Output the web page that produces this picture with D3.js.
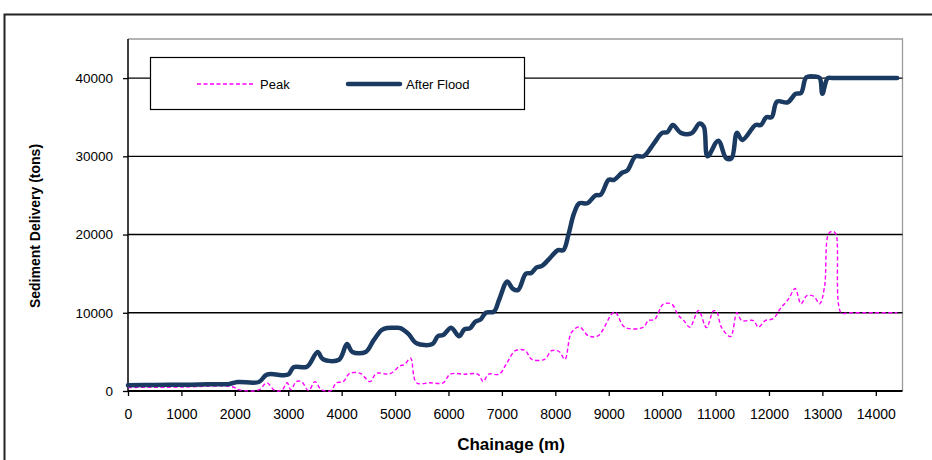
<!DOCTYPE html>
<html>
<head>
<meta charset="utf-8">
<script src="https://cdn.jsdelivr.net/npm/d3@7"></script>
<style>
  html, body { margin: 0; padding: 0; background: #fff; }
  svg { display: block; }
  text { font-family: Arial, "Liberation Sans", sans-serif; fill: #000; }
</style>
</head>
<body>
<svg id="chart" width="932" height="460"></svg>
<script>
// Chainage (m) of each surveyed point
const afterFloodChainage = [0, 500, 1000, 1500, 1900, 2050, 2450, 2600, 3000, 3100, 3350, 3550, 3650, 3950, 4100, 4200, 4450, 4600, 4750, 4850, 4980, 5100, 5250, 5400, 5700, 5800, 5900, 6050, 6200, 6300, 6400, 6500, 6600, 6700, 6850, 6950, 7100, 7200, 7300, 7450, 7550, 7650, 7750, 7900, 8050, 8150, 8250, 8350, 8450, 8600, 8750, 8850, 9000, 9100, 9250, 9350, 9500, 9650, 9850, 10000, 10100, 10200, 10350, 10550, 10700, 10780, 10850, 11050, 11200, 11300, 11400, 11500, 11750, 11850, 11950, 12050, 12150, 12350, 12500, 12600, 12700, 12850, 12950, 13000, 13100, 13200, 13600, 14000, 14400];
// Cumulative sediment delivery after the flood (tons)
const afterFloodTons = [750, 780, 800, 850, 900, 1150, 1150, 2100, 2100, 3050, 3100, 5000, 4050, 4000, 6000, 5000, 5000, 6500, 7800, 8050, 8080, 8050, 7300, 6100, 6000, 7000, 7150, 8100, 7000, 7900, 8000, 8850, 9150, 10000, 10150, 11700, 14000, 13100, 12900, 15000, 15100, 15800, 16000, 17000, 18000, 18000, 20100, 22700, 24000, 24000, 25000, 25100, 27000, 27000, 27900, 28200, 30000, 30000, 31700, 33000, 33100, 34000, 33000, 32950, 34200, 33800, 30000, 32000, 29750, 29750, 33000, 32100, 34000, 34000, 35000, 35000, 37000, 36900, 38000, 38100, 40100, 40200, 40000, 38000, 40000, 40000, 40000, 40000, 40000];

const peakChainage = [0, 1000, 1950, 2080, 2450, 2600, 2750, 2880, 2980, 3050, 3150, 3250, 3380, 3500, 3620, 3800, 3900, 4030, 4150, 4350, 4530, 4650, 4900, 5090, 5180, 5290, 5400, 5650, 5900, 6030, 6300, 6550, 6650, 6750, 6950, 7090, 7250, 7430, 7560, 7800, 7930, 8070, 8180, 8300, 8450, 8620, 8800, 9110, 9300, 9650, 9740, 9860, 10020, 10180, 10300, 10400, 10520, 10680, 10830, 10960, 11020, 11110, 11280, 11400, 11490, 11710, 11800, 11930, 12080, 12210, 12370, 12490, 12600, 12710, 12840, 12950, 13040, 13120, 13210, 13260, 13350, 13500, 14000, 14400];
// Sediment delivery at the flood peak (tons)
const peakTons = [450, 500, 550, 150, 150, 1050, 50, 100, 1050, 150, 1200, 1200, 50, 1200, 150, 50, 1050, 1200, 2250, 2250, 1200, 2250, 2200, 3200, 3400, 4200, 1050, 1050, 1050, 2150, 2150, 2150, 1200, 2150, 2150, 3550, 5150, 5200, 4050, 4050, 5150, 5050, 4050, 7450, 8200, 7050, 7050, 10100, 8150, 8150, 9000, 9150, 11100, 11100, 9700, 9050, 8150, 10300, 8100, 10250, 10150, 8150, 6950, 10000, 9000, 9000, 8150, 9000, 9250, 10500, 11800, 13100, 11150, 12200, 12100, 11150, 13300, 20150, 20400, 19950, 10000, 10000, 10000, 10000];

const xTicks = [0, 1000, 2000, 3000, 4000, 5000, 6000, 7000, 8000, 9000, 10000, 11000, 12000, 13000, 14000];
const yTicks = [0, 10000, 20000, 30000, 40000];
const seriesNames = ["Peak", "After Flood"];

const svg = d3.select("#chart");
const navy = "#1B3A61";
const magenta = "#FF00FF";

const x = d3.scaleLinear().domain([0, 14500]).range([128, 902.5]);
const y = d3.scaleLinear().domain([0, 45000]).range([391, 39]);

// chart frame
svg.append("path")
  .attr("d", "M4.5,460 V14.5 H932")
  .attr("fill", "none").attr("stroke", "#222").attr("stroke-width", 2);

// plot area outline (top and right)
svg.append("path")
  .attr("d", `M${x(0)},${y(45000)} H${x(14500)} V${y(0)}`)
  .attr("fill", "none").attr("stroke", "#9a9a9a").attr("stroke-width", 1.3);

// horizontal gridlines
svg.append("g").selectAll("line")
  .data(yTicks.filter(d => d > 0))
  .join("line")
  .attr("x1", x(0)).attr("x2", x(14500))
  .attr("y1", d => y(d)).attr("y2", d => y(d))
  .attr("stroke", "#000").attr("stroke-width", 1.4);

// y axis
const yAxis = svg.append("g")
  .attr("transform", `translate(${x(0)},0)`)
  .call(d3.axisLeft(y).tickValues(yTicks).tickSize(5).tickPadding(10).tickFormat(d3.format("d")));
yAxis.select(".domain").attr("stroke", "#000").attr("stroke-width", 1.5)
  .attr("d", `M0,${y(0)} V${y(45000)}`);
yAxis.selectAll(".tick line").attr("stroke", "#000").attr("stroke-width", 1.3);
yAxis.selectAll(".tick text").style("font-size", "13.5px").style("font-family", "Arial, 'Liberation Sans', sans-serif");

// x axis
const xAxis = svg.append("g")
  .attr("transform", `translate(0,${y(0)})`)
  .call(d3.axisBottom(x).tickValues(xTicks).tickSize(5).tickPadding(13).tickFormat(d3.format("d")));
xAxis.select(".domain").attr("stroke", "#000").attr("stroke-width", 2.2)
  .attr("d", `M${x(0)},0 H${x(14500)}`);
xAxis.selectAll(".tick line").attr("stroke", "#000").attr("stroke-width", 1.3);
xAxis.selectAll(".tick text").style("font-size", "14px").style("font-family", "Arial, 'Liberation Sans', sans-serif");

// axis titles
svg.append("text")
  .attr("x", 511).attr("y", 450)
  .attr("text-anchor", "middle")
  .style("font-size", "17px").style("font-weight", "bold")
  .text("Chainage (m)");
svg.append("text")
  .attr("transform", "translate(40,226) rotate(-90)")
  .attr("text-anchor", "middle")
  .style("font-size", "14px").style("font-weight", "bold")
  .text("Sediment Delivery (tons)");

// series lines
const line = d3.line().curve(d3.curveCatmullRom.alpha(0.5));

svg.append("path")
  .attr("d", line(peakChainage.map((c, i) => [x(c), y(peakTons[i])])))
  .attr("fill", "none").attr("stroke", magenta).attr("stroke-width", 1.4)
  .attr("stroke-dasharray", "4,2.5");

svg.append("path")
  .attr("d", line(afterFloodChainage.map((c, i) => [x(c), y(afterFloodTons[i])])))
  .attr("fill", "none").attr("stroke", navy).attr("stroke-width", 4.5)
  .attr("stroke-linejoin", "round").attr("stroke-linecap", "round");

// legend
const legend = svg.append("g");
legend.append("rect")
  .attr("x", 150.5).attr("y", 57.5).attr("width", 374).attr("height", 52)
  .attr("fill", "#fff").attr("stroke", "#000").attr("stroke-width", 1.2);
legend.append("line")
  .attr("x1", 197).attr("x2", 254).attr("y1", 84).attr("y2", 84)
  .attr("stroke", magenta).attr("stroke-width", 1.4).attr("stroke-dasharray", "4,2.5");
legend.append("text").attr("x", 260).attr("y", 89)
  .style("font-size", "13px").text(seriesNames[0]);
legend.append("line")
  .attr("x1", 348).attr("x2", 400).attr("y1", 84).attr("y2", 84)
  .attr("stroke", navy).attr("stroke-width", 4.5).attr("stroke-linecap", "round");
legend.append("text").attr("x", 406).attr("y", 89)
  .style("font-size", "13px").text(seriesNames[1]);
</script>
</body>
</html>
